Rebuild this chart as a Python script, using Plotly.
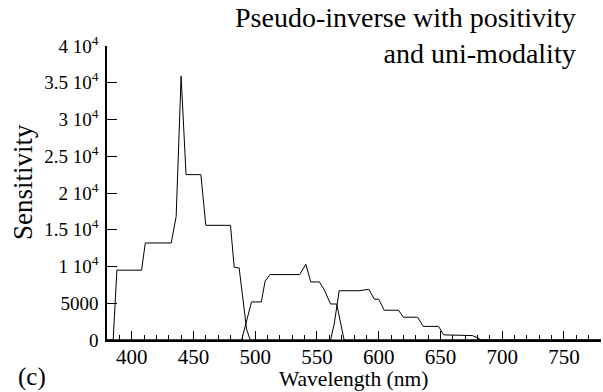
import plotly.graph_objects as go

# Curve 1 (short-wavelength sensitivity)
wl_1 = [380, 385, 388, 408, 411, 432, 436, 440, 444, 456, 460, 480, 483, 487, 493, 496, 780]
sens_1 = [0, 0, 9500, 9500, 13200, 13200, 16800, 35900, 22500, 22500, 15600, 15600, 9900, 9800, 1500, 0, 0]

# Curve 2 (medium-wavelength sensitivity)
wl_2 = [380, 489, 497, 505, 508, 512, 536, 541, 545, 552, 556, 561, 566, 572, 780]
sens_2 = [0, 0, 5180, 5180, 8000, 8900, 8900, 10300, 7900, 7900, 6800, 4900, 4900, 0, 0]

# Curve 3 (long-wavelength sensitivity)
wl_3 = [380, 561, 564, 568, 584, 588, 592, 596.5, 600, 604.5, 616, 620, 631.5, 636, 648.5, 652.5, 676, 680, 683, 780]
sens_3 = [0, 0, 2200, 6700, 6700, 6800, 6900, 5550, 5550, 4050, 4050, 3100, 3100, 1850, 1850, 700, 600, 300, 0, 0]

y_tickvals = [0, 5000, 10000, 15000, 20000, 25000, 30000, 35000, 40000]
y_ticktext = ["0", "5000", "1 10<sup>4</sup>", "1.5 10<sup>4</sup>", "2 10<sup>4</sup>",
              "2.5 10<sup>4</sup>", "3 10<sup>4</sup>", "3.5 10<sup>4</sup>", "4 10<sup>4</sup>"]
x_tickvals = [400, 450, 500, 550, 600, 650, 700, 750]

FONT = "Times New Roman, Liberation Serif, Times, serif"

fig = go.Figure()
for wl, s in [(wl_1, sens_1), (wl_2, sens_2), (wl_3, sens_3)]:
    fig.add_trace(go.Scatter(x=wl, y=s, mode="lines",
                             line=dict(color="black", width=1), showlegend=False,
                             hoverinfo="skip"))

PW, PH = 494, 294  # plot area size in px


def px(xp):
    return (xp - 107) / PW


def py(yp):
    return (340 - yp) / PH


fig.update_layout(
    width=603, height=392,
    margin=dict(l=107, r=2, t=46, b=52),
    paper_bgcolor="white", plot_bgcolor="white",
    font=dict(family=FONT, color="black"),
    xaxis=dict(
        range=[380, 780], showgrid=False, zeroline=False,
        showline=True, linecolor="black", linewidth=1.5,
        ticks="inside", ticklen=9, tickwidth=1, tickcolor="black",
        tickvals=x_tickvals, tickfont=dict(size=21, family=FONT), ticklabelstandoff=-3,
        minor=dict(dtick=10, tick0=380, ticks="inside", ticklen=5, tickwidth=1, tickcolor="black"),
    ),
    yaxis=dict(
        range=[0, 40000], showgrid=False, zeroline=False,
        showline=True, linecolor="black", linewidth=1.5,
        ticks="inside", ticklen=10, tickwidth=1, tickcolor="black",
        tickvals=y_tickvals, ticktext=y_ticktext,
        tickfont=dict(size=19, family=FONT), ticklabelstandoff=3,
    ),
    annotations=[
        dict(text="Pseudo-inverse with positivity<br>and uni-modality",
             xref="paper", yref="paper", x=px(578), y=py(0),
             xanchor="right", yanchor="top", align="right", showarrow=False,
             font=dict(size=28, family=FONT, color="black")),
        dict(text="Wavelength (nm)", xref="paper", yref="paper", x=px(353), y=py(379),
             xanchor="center", yanchor="middle", showarrow=False,
             font=dict(size=21.5, family=FONT, color="black")),
        dict(text="Sensitivity", xref="paper", yref="paper", x=px(23), y=py(182),
             xanchor="center", yanchor="middle", textangle=-90, showarrow=False,
             font=dict(size=27, family=FONT, color="black")),
        dict(text="(c)", xref="paper", yref="paper", x=px(32), y=py(377),
             xanchor="center", yanchor="middle", showarrow=False,
             font=dict(size=25, family=FONT, color="black")),
    ],
)

fig.write_html("out.html")
